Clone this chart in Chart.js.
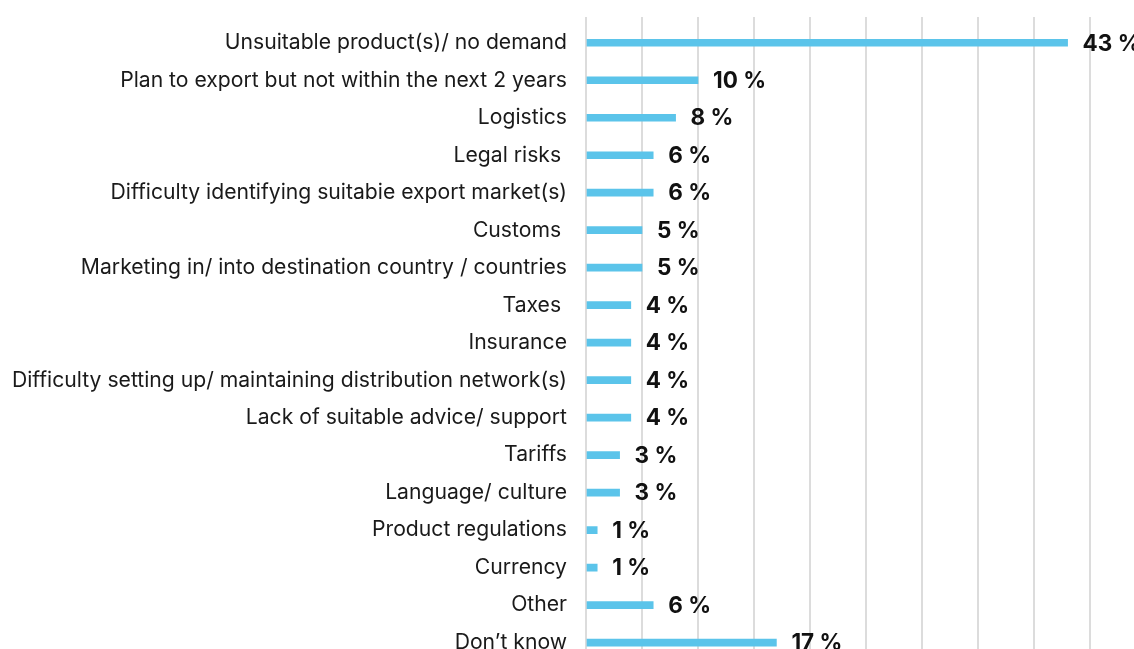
<!DOCTYPE html>
<html>
<head>
<meta charset="utf-8">
<script src="https://cdn.jsdelivr.net/npm/chart.js@4/dist/chart.umd.min.js"></script>
<style>
  html, body { margin: 0; padding: 0; background: #fff; overflow: hidden; }
  #clip { width: 1134px; height: 649px; overflow: hidden; }
  #box { position: relative; width: 1160px; height: 674px; }
</style>
</head>
<body>
<div id="clip"><div id="box"><canvas id="chart-barriers"></canvas></div></div>
<script>
const categories = [
    'Unsuitable product(s)/ no demand',
    'Plan to export but not within the next 2 years',
    'Logistics',
    'Legal risks ',
    'Difficulty identifying suitabie export market(s)',
    'Customs ',
    'Marketing in/ into destination country / countries',
    'Taxes ',
    'Insurance',
    'Difficulty setting up/ maintaining distribution network(s)',
    'Lack of suitable advice/ support',
    'Tariffs',
    'Language/ culture',
    'Product regulations',
    'Currency',
    'Other',
    'Don\u2019t know',
];
const shares = [43, 10, 8, 6, 6, 5, 5, 4, 4, 4, 4, 3, 3, 1, 1, 6, 17];

const FONT = 'Inter, "Noto Sans", sans-serif';

// percentage labels at the end of each bar
const valueLabels = {
    id: 'valueLabels',
    afterDatasetsDraw(chart) {
        const { ctx } = chart;
        const meta = chart.getDatasetMeta(0);
        ctx.save();
        ctx.font = `bold 22.5px ${FONT}`;
        ctx.fillStyle = '#111';
        ctx.textAlign = 'left';
        ctx.textBaseline = 'middle';
        meta.data.forEach((bar, i) => {
            ctx.fillText(`${shares[i]} %`, bar.x + 15, bar.y + 1);
        });
        ctx.restore();
    },
};

new Chart(document.getElementById('chart-barriers'), {
    type: 'bar',
    data: {
        labels: categories,
        datasets: [{
            data: shares,
            backgroundColor: '#5bc4ea',
            barThickness: 7,
        }],
    },
    options: {
        indexAxis: 'y',
        responsive: true,
        maintainAspectRatio: false,
        animation: false,
        layout: { padding: { top: 17, right: 14, left: 0, bottom: 0 } },
        plugins: {
            legend: { display: false },
            tooltip: { enabled: false },
        },
        scales: {
            x: {
                position: 'top',
                min: 0,
                max: 50,
                ticks: { display: false, stepSize: 5 },
                grid: { color: '#dcdcdc', lineWidth: 2, tickLength: 7, drawTicks: true },
                border: { display: false },
            },
            y: {
                // hidden grid; tickLength only sets the gap before the labels
                grid: { display: false, tickLength: 19 },
                border: { display: false },
                ticks: {
                    color: '#1a1a1a',
                    padding: 0,
                    font: { family: FONT, size: 21.15 },
                },
                afterFit(scale) { scale.width = 586; },
            },
        },
    },
    plugins: [valueLabels],
});
</script>
</body>
</html>
